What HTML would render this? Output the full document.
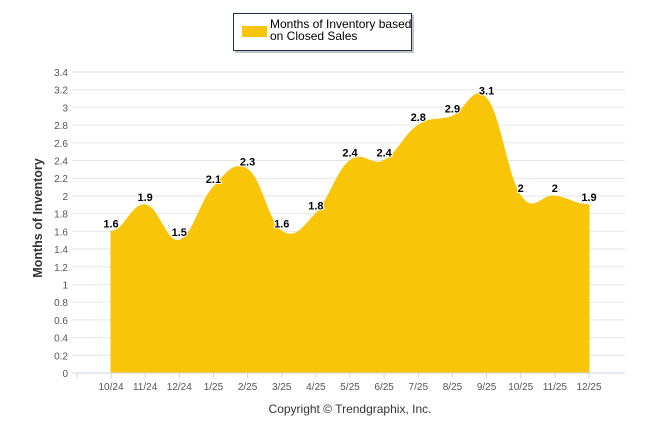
<!DOCTYPE html>
<html><head><meta charset="utf-8"><style>
body{margin:0;background:#fff;}
svg text{font-family:"Liberation Sans",sans-serif;}
</style></head><body>
<svg width="646" height="434">
<g id="grid"></g>
<g id="yl"></g>
<path id="area" fill="#f8c508" stroke="#f8c508" stroke-width="1"/>
<line x1="72" y1="373" x2="625" y2="373" stroke="#ccd6eb"/>
<g id="xl"></g>
<g id="vl"></g>
<text transform="translate(42,218) rotate(-90)" text-anchor="middle" font-size="12.5" font-weight="bold" fill="#333">Months of Inventory</text>
<text x="350" y="413" text-anchor="middle" font-size="12" fill="#333">Copyright © Trendgraphix, Inc.</text>
<g>
<rect x="235" y="15" width="179" height="38" fill="#888" opacity="0.5"/>
<rect x="233.5" y="13.5" width="178" height="37" fill="#fff" stroke="#1f3050" stroke-width="1"/>
<rect x="242" y="26" width="25" height="11" fill="#f8c508"/>
<text x="270" y="28" font-size="12" fill="#000">Months of Inventory based</text>
<text x="270" y="40" font-size="12" fill="#000">on Closed Sales</text>
</g>
</svg>
<script>
const categories=["10/24","11/24","12/24","1/25","2/25","3/25","4/25","5/25","6/25","7/25","8/25","9/25","10/25","11/25","12/25"];
const values=[1.6,1.9,1.5,2.1,2.3,1.6,1.8,2.4,2.4,2.8,2.9,3.1,2,2,1.9];
const yTicks=[0,0.2,0.4,0.6,0.8,1,1.2,1.4,1.6,1.8,2,2.2,2.4,2.6,2.8,3,3.2,3.4];
const NS="http://www.w3.org/2000/svg";
const y0=373,yTop=72,yMax=3.4;
const ys=v=>y0-(v/yMax)*(y0-yTop);
const xs=i=>111+i*(589-111)/(categories.length-1);
function mk(t,a,p){const e=document.createElementNS(NS,t);for(const k in a)e.setAttribute(k,a[k]);p.appendChild(e);return e;}
const grid=document.getElementById('grid'),yl=document.getElementById('yl'),xl=document.getElementById('xl'),vl=document.getElementById('vl');
yTicks.forEach(v=>{
 if(v>0){const l=mk('line',{x1:72,x2:625,y1:ys(v),y2:ys(v),stroke:'#e6e6e6'},grid);
 
 }
 const t=mk('text',{x:68,y:ys(v)+4,'text-anchor':'end','font-size':10,fill:'#555'},yl);t.textContent=String(v);
 
 
});
mk('line',{x1:77,x2:77,y1:373,y2:378,stroke:'#ccd6eb'},xl);
categories.forEach((c,i)=>{
 mk('line',{x1:xs(i),x2:xs(i),y1:373,y2:378,stroke:'#ccd6eb'},xl);
 const t=mk('text',{x:xs(i),y:390,'text-anchor':'middle','font-size':10,fill:'#555'},xl);t.textContent=c;
 
 
 const d=mk('text',{x:xs(i),y:ys(values[i])-4,'text-anchor':'middle','font-size':11,'font-weight':'bold',fill:'#000',stroke:'#fff','stroke-width':2,'paint-order':'stroke'},vl);d.textContent=String(values[i]);
 
 
});
const pts=values.map((v,i)=>[xs(i),ys(v)]);
let d=`M${pts[0][0]},${y0}L${pts[0][0]},${pts[0][1]}`;
const s=1.5;
for(let i=0;i<pts.length-1;i++){
 const p0=pts[i-1]||pts[i],p1=pts[i],p2=pts[i+1],p3=pts[i+2]||pts[i+1];
 const dx=(p2[0]-p1[0])/(s+1);
 let c1=[p1[0]+dx,p1[1]+(p2[1]-p0[1])/(p2[0]-p0[0])*dx];
 let c2=[p2[0]-dx,p2[1]-(p3[1]-p1[1])/(p3[0]-p1[0])*dx];
 if(i==0)c1=[p1[0]+dx,p1[1]];
 if(i==pts.length-2)c2=[p2[0]-dx,p2[1]];
 d+=`C${c1[0]},${c1[1]} ${c2[0]},${c2[1]} ${p2[0]},${p2[1]}`;
}
d+=`L${pts[pts.length-1][0]},${y0}Z`;
document.getElementById('area').setAttribute('d',d);
</script>
</body></html>
